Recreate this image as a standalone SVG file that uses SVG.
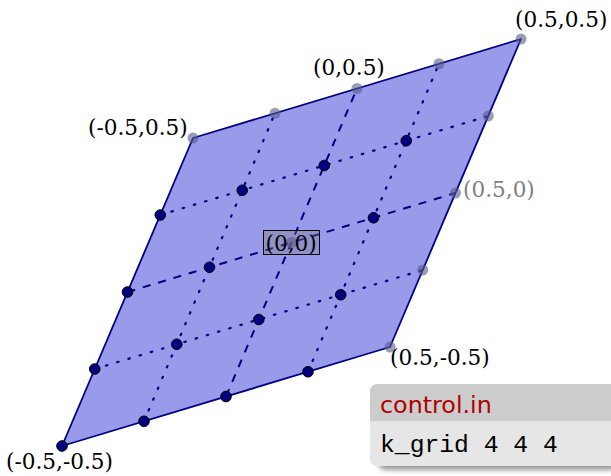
<svg xmlns="http://www.w3.org/2000/svg" width="611" height="476" viewBox="0 0 611 476">
<defs>
<style>
.lbl{font-family:"DejaVu Serif",serif;font-size:21.6px;fill:#000}
.dot{fill:#000080;stroke:#000;stroke-width:1}
.ghost{fill:#5a5a8c;fill-opacity:0.6}
.dash{stroke:#000080;stroke-width:2;stroke-dasharray:8 8;fill:none}
.dotted{stroke:#000080;stroke-width:2.2;stroke-dasharray:1.5 10.2;stroke-linecap:round;fill:none}
</style>
<filter id="sh" x="-10%" y="-30%" width="130%" height="160%"><feGaussianBlur stdDeviation="2.5"/></filter>
</defs>
<rect width="611" height="476" fill="#fff"/>
<g id="cell">
<polygon points="62,446 390,347 521,39 193,138" fill="#9a9aeb" stroke="#000080" stroke-width="1.8" stroke-linejoin="round"/>
</g>
<g id="connectors">
<line class="dash" x1="127.5" y1="292" x2="455.5" y2="193"/>
<line class="dash" x1="226" y1="396.5" x2="357" y2="88.5"/>
<line class="dotted" x1="94.75" y1="369" x2="422.75" y2="270"/>
<line class="dotted" x1="160.25" y1="215" x2="488.25" y2="116"/>
<line class="dotted" x1="144" y1="421.25" x2="275" y2="113.25"/>
<line class="dotted" x1="308" y1="371.75" x2="439" y2="63.75"/>
</g>
<g id="kpoints">
<circle class="dot" cx="62" cy="446" r="5.3"/>
<circle class="dot" cx="144" cy="421.25" r="5.3"/>
<circle class="dot" cx="226" cy="396.5" r="5.3"/>
<circle class="dot" cx="308" cy="371.75" r="5.3"/>
<circle class="dot" cx="94.75" cy="369" r="5.3"/>
<circle class="dot" cx="176.75" cy="344.25" r="5.3"/>
<circle class="dot" cx="258.75" cy="319.5" r="5.3"/>
<circle class="dot" cx="340.75" cy="294.75" r="5.3"/>
<circle class="dot" cx="127.5" cy="292" r="5.3"/>
<circle class="dot" cx="209.5" cy="267.25" r="5.3"/>
<circle class="dot" cx="373.5" cy="217.75" r="5.3"/>
<circle class="dot" cx="160.25" cy="215" r="5.3"/>
<circle class="dot" cx="242.25" cy="190.25" r="5.3"/>
<circle class="dot" cx="324.25" cy="165.5" r="5.3"/>
<circle class="dot" cx="406.25" cy="140.75" r="5.3"/>
</g>
<g id="images">
<circle class="ghost" cx="390" cy="347" r="5.5"/>
<circle class="ghost" cx="422.75" cy="270" r="5.5"/>
<circle class="ghost" cx="455.5" cy="193" r="5.5"/>
<circle class="ghost" cx="488.25" cy="116" r="5.5"/>
<circle class="ghost" cx="521" cy="39" r="5.5"/>
<circle class="ghost" cx="193" cy="138" r="5.5"/>
<circle class="ghost" cx="275" cy="113.25" r="5.5"/>
<circle class="ghost" cx="357" cy="88.5" r="5.5"/>
<circle class="ghost" cx="439" cy="63.75" r="5.5"/>
</g>
<g id="origin">
<rect x="263.5" y="230.5" width="56" height="24" fill="#808080" fill-opacity="0.35" stroke="#000" stroke-width="1"/>
<circle class="ghost" cx="291.5" cy="242.5" r="5.5"/>
<text class="lbl" x="265.5" y="251">(0,0)</text>
</g>
<g id="labels">
<text class="lbl" x="515" y="27">(0.5,0.5)</text>
<text class="lbl" x="313" y="75">(0,0.5)</text>
<text class="lbl" x="88" y="135">(-0.5,0.5)</text>
<text class="lbl" x="463" y="197" style="fill:#808080">(0.5,0)</text>
<text class="lbl" x="390" y="365">(0.5,-0.5)</text>
<text class="lbl" x="6" y="469">(-0.5,-0.5)</text>
</g>
<g id="control">
<rect x="378" y="392" width="240" height="78" rx="8" fill="#555" opacity="0.6" filter="url(#sh)"/>
<path d="M370,421 V392 Q370,384 378,384 H611 V421 Z" fill="#cccccc"/>
<path d="M370,421 H611 V466 H378 Q370,466 370,458 Z" fill="#e6e6e6"/>
<text x="380" y="413" font-family="DejaVu Sans,sans-serif" font-size="23.8" fill="#b00000">control.in</text>
<text x="380" y="452" font-family="Liberation Mono,monospace" font-size="24.7" fill="#000">k_grid 4 4 4</text>
</g>
</svg>
